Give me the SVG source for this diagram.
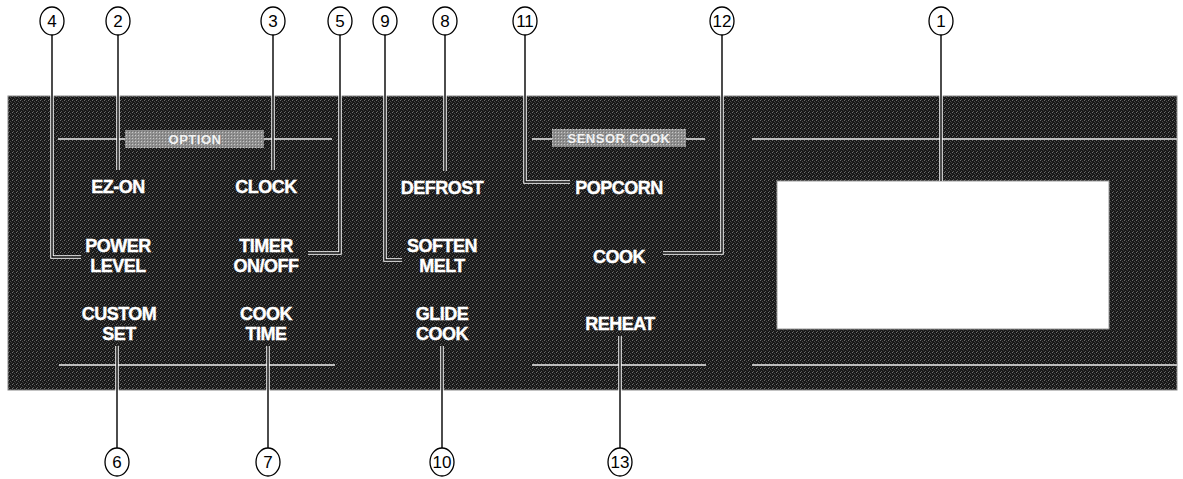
<svg xmlns="http://www.w3.org/2000/svg" width="1183" height="479" viewBox="0 0 1183 479">
<defs>
<pattern id="noise" width="4" height="4" patternUnits="userSpaceOnUse">
<rect width="4" height="4" fill="#181818"/>
<rect x="0" y="0" width="1" height="1" fill="#707070"/>
<rect x="2" y="1" width="1" height="1" fill="#4a4a4a"/>
<rect x="1" y="3" width="1" height="1" fill="#5a5a5a"/>
<rect x="3" y="2" width="1" height="1" fill="#3a3a3a"/>
</pattern>
<pattern id="grey" width="3" height="3" patternUnits="userSpaceOnUse">
<rect width="3" height="3" fill="#8f8f8f"/>
<rect x="0" y="0" width="1" height="1" fill="#c8c8c8"/>
<rect x="2" y="2" width="1" height="1" fill="#707070"/>
</pattern>
</defs>
<style>
.lbl{font-family:"Liberation Sans",Arial,sans-serif;font-weight:bold;font-size:18px;fill:#fff;stroke:#fff;stroke-width:0.4;text-anchor:middle;letter-spacing:-0.5px}
.tag{font-family:"Liberation Sans",Arial,sans-serif;font-weight:bold;font-size:13px;fill:#f2f2f2;text-anchor:middle;letter-spacing:0.5px}
.num{font-family:"Liberation Sans",Arial,sans-serif;font-size:17px;fill:#000;text-anchor:middle}
.ring{fill:#fff;stroke:#000;stroke-width:1.3}
.rule{stroke:#bdbdbd;stroke-width:2;fill:none}
.halo{fill:none;stroke:#fff;stroke-width:3.5}
.wire{fill:none;stroke:#000;stroke-width:1.4}
</style>
<g id="panel">
<rect x="8" y="96" width="1169" height="294" fill="url(#noise)" stroke="#888" stroke-width="1"/>
<line class="rule" x1="58" y1="139" x2="332" y2="139"/>
<line class="rule" x1="532" y1="139" x2="705" y2="139"/>
<line class="rule" x1="752" y1="139" x2="1177" y2="139"/>
<line class="rule" x1="59" y1="365" x2="335" y2="365"/>
<line class="rule" x1="532" y1="365" x2="706" y2="365"/>
<line class="rule" x1="752" y1="365" x2="1177" y2="365"/>
<rect x="125" y="130" width="139" height="18" fill="url(#grey)"/>
<text class="tag" x="195" y="144">OPTION</text>
<rect x="552" y="129" width="134" height="18" fill="url(#grey)"/>
<text class="tag" x="619" y="143">SENSOR COOK</text>
<rect x="777" y="181" width="332" height="148" fill="#fff" stroke="#999" stroke-width="1"/>
</g>
<g id="connectors">
<path class="halo" d="M52,35 V257 H81"/><path class="wire" d="M52,35 V257 H81"/>
<path class="halo" d="M118,35 V170"/><path class="wire" d="M118,35 V170"/>
<path class="halo" d="M273,35 V170"/><path class="wire" d="M273,35 V170"/>
<path class="halo" d="M340,35 V253 H308"/><path class="wire" d="M340,35 V253 H308"/>
<path class="halo" d="M385,35 V260 H402"/><path class="wire" d="M385,35 V260 H402"/>
<path class="halo" d="M445,35 V171"/><path class="wire" d="M445,35 V171"/>
<path class="halo" d="M525,35 V182 H570"/><path class="wire" d="M525,35 V182 H570"/>
<path class="halo" d="M722,35 V253 H663"/><path class="wire" d="M722,35 V253 H663"/>
<path class="halo" d="M941,35 V181"/><path class="wire" d="M941,35 V181"/>
<path class="halo" d="M117,346 V448"/><path class="wire" d="M117,346 V448"/>
<path class="halo" d="M268,346 V448"/><path class="wire" d="M268,346 V448"/>
<path class="halo" d="M442,346 V448"/><path class="wire" d="M442,346 V448"/>
<path class="halo" d="M620,336 V448"/><path class="wire" d="M620,336 V448"/>
</g>
<g id="btn-ezon"><text class="lbl" x="118" y="193">EZ-ON</text></g>
<g id="btn-clock"><text class="lbl" x="266" y="193">CLOCK</text></g>
<g id="btn-power"><text class="lbl" x="118" y="252">POWER</text><text class="lbl" x="118" y="272">LEVEL</text></g>
<g id="btn-timer"><text class="lbl" x="266" y="252">TIMER</text><text class="lbl" x="266" y="272">ON/OFF</text></g>
<g id="btn-custom"><text class="lbl" x="119" y="320">CUSTOM</text><text class="lbl" x="119" y="340">SET</text></g>
<g id="btn-cooktime"><text class="lbl" x="266" y="320">COOK</text><text class="lbl" x="266" y="340">TIME</text></g>
<g id="btn-defrost"><text class="lbl" x="442" y="194">DEFROST</text></g>
<g id="btn-soften"><text class="lbl" x="442" y="252">SOFTEN</text><text class="lbl" x="442" y="272">MELT</text></g>
<g id="btn-glide"><text class="lbl" x="442" y="320">GLIDE</text><text class="lbl" x="442" y="340">COOK</text></g>
<g id="btn-popcorn"><text class="lbl" x="619" y="194">POPCORN</text></g>
<g id="btn-cook"><text class="lbl" x="619" y="263">COOK</text></g>
<g id="btn-reheat"><text class="lbl" x="620" y="330">REHEAT</text></g>
<g id="n4"><ellipse class="ring" cx="52" cy="21" rx="12" ry="14"/><text class="num" x="52" y="27">4</text></g>
<g id="n2"><ellipse class="ring" cx="118" cy="21" rx="12" ry="14"/><text class="num" x="118" y="27">2</text></g>
<g id="n3"><ellipse class="ring" cx="273" cy="21" rx="12" ry="14"/><text class="num" x="273" y="27">3</text></g>
<g id="n5"><ellipse class="ring" cx="340" cy="21" rx="12" ry="14"/><text class="num" x="340" y="27">5</text></g>
<g id="n9"><ellipse class="ring" cx="385" cy="21" rx="12" ry="14"/><text class="num" x="385" y="27">9</text></g>
<g id="n8"><ellipse class="ring" cx="445" cy="21" rx="12" ry="14"/><text class="num" x="445" y="27">8</text></g>
<g id="n11"><ellipse class="ring" cx="525" cy="21" rx="12" ry="14"/><text class="num" x="525" y="27">11</text></g>
<g id="n12"><ellipse class="ring" cx="722" cy="21" rx="12" ry="14"/><text class="num" x="722" y="27">12</text></g>
<g id="n1"><ellipse class="ring" cx="941" cy="21" rx="12" ry="14"/><text class="num" x="941" y="27">1</text></g>
<g id="n6"><ellipse class="ring" cx="117" cy="462" rx="12" ry="14"/><text class="num" x="117" y="468">6</text></g>
<g id="n7"><ellipse class="ring" cx="268" cy="462" rx="12" ry="14"/><text class="num" x="268" y="468">7</text></g>
<g id="n10"><ellipse class="ring" cx="442" cy="462" rx="12" ry="14"/><text class="num" x="442" y="468">10</text></g>
<g id="n13"><ellipse class="ring" cx="620" cy="462" rx="12" ry="14"/><text class="num" x="620" y="468">13</text></g>
</svg>
